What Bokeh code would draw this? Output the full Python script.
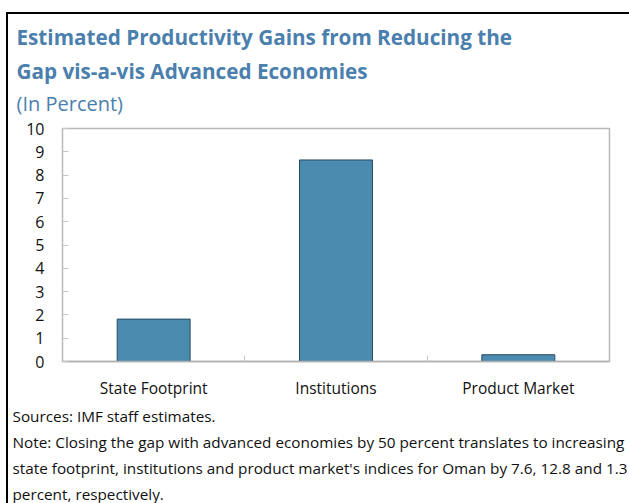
from bokeh.plotting import figure
from bokeh.models import Range1d, FixedTicker, Title
from bokeh.embed import file_html
from bokeh.resources import INLINE
import numpy as np

categories = ["State Footprint", "Institutions", "Product Market"]
values = [1.82, 8.65, 0.29]
y_ticks = [0, 1, 2, 3, 4, 5, 6, 7, 8, 9, 10]

title_lines = ["Estimated Productivity Gains from Reducing the",
               "Gap vis-a-vis Advanced Economies"]
subtitle = "(In Percent)"
foot_lines = ["Sources: IMF staff estimates.",
              "Note: Closing the gap with advanced economies by 50 percent translates to increasing",
              "state footprint, institutions and product market's indices for Oman by 7.6, 12.8 and 1.3",
              "percent, respectively."]

FONT = "Open Sans"
TITLE_C = "#4a7fae"
BAR_C = "#4b8bb0"

# canvas starts at page (8, 14): 6px/12px margin + 2px black border
FL, FR, FT, FB = 54, 20, 114, 142
FW, FH = 547, 233
p = figure(width=FL + FW + FR, height=FT + FH + FB, output_backend="svg", toolbar_location=None,
           x_range=Range1d(0, len(categories)), y_range=Range1d(0, 10),
           min_border_left=FL, min_border_right=FR, min_border_top=FT, min_border_bottom=FB,
           frame_width=FW, frame_height=FH,
           styles={"margin-left": "6px", "margin-top": "12px",
                   "border-left": "2px solid black", "border-top": "2px solid black"})

xs = np.arange(len(categories)) + 0.5
p.vbar(x=xs, top=values, width=0.4, bottom=0, fill_color=BAR_C,
       line_color="#284a60", line_width=1)

p.grid.visible = False
p.outline_line_color = "#b8b8b8"
p.outline_line_width = 1.5

# x axis
p.xaxis.ticker = FixedTicker(ticks=list(xs), minor_ticks=list(np.arange(1, len(categories))))
p.xaxis.major_label_overrides = {float(x): c for x, c in zip(xs, categories)}
p.xaxis.major_tick_in = 0
p.xaxis.major_tick_out = 0
p.xaxis.minor_tick_in = 6
p.xaxis.minor_tick_out = 0
p.xaxis.minor_tick_line_color = "#c8c8c8"
p.xaxis.axis_line_color = "#b0b0b0"
p.xaxis.axis_line_width = 1.5
p.xaxis.major_label_text_font = FONT
p.xaxis.major_label_text_font_size = "15.5px"
p.xaxis.major_label_text_color = "#111111"
p.xaxis.major_label_standoff = 15

# y axis
p.yaxis.ticker = FixedTicker(ticks=y_ticks)
p.yaxis.major_tick_in = 6
p.yaxis.major_tick_out = 0
p.yaxis.major_tick_line_color = "#c8c8c8"
p.yaxis.minor_tick_line_color = None
p.yaxis.axis_line_color = "#b8b8b8"
p.yaxis.major_label_text_font = FONT
p.yaxis.major_label_text_font_size = "16px"
p.yaxis.major_label_text_color = "#111111"
p.yaxis.major_label_standoff = 18

# titles above (first added is nearest the frame); a thin spacer first
p.add_layout(Title(text=" ", text_font=FONT, text_font_size="1px", standoff=8), "above")
p.add_layout(Title(text=subtitle, text_font=FONT, text_font_size="20px", text_font_style="normal",
                   text_color=TITLE_C, align="left", offset=16 - 62, standoff=2), "above")
for t in reversed(title_lines):
    p.add_layout(Title(text=t, text_font=FONT, text_font_size="20.7px", text_font_style="bold",
                       text_color=TITLE_C, align="left", offset=16 - 62, standoff=4), "above")

# footnotes below (after the x axis)
for t in foot_lines:
    p.add_layout(Title(text=t, text_font=FONT, text_font_size="15.3px", text_font_style="normal",
                       text_color="#111111", align="left", offset=12 - 62, standoff=4), "below")

open("out.html", "w").write(file_html(p, INLINE))
